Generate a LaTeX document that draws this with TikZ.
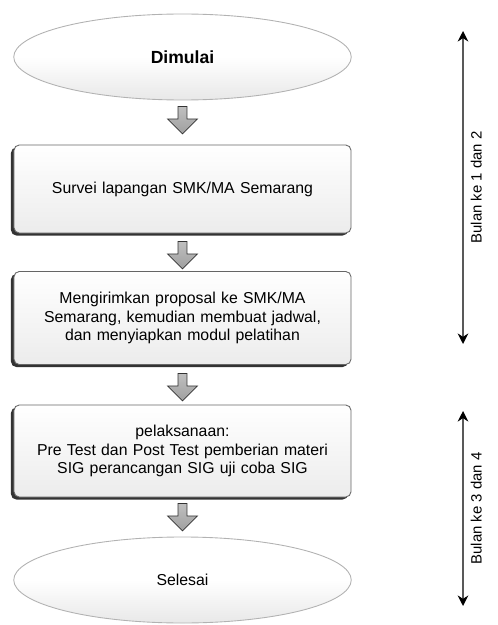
\documentclass[tikz,border=0pt]{standalone}
\usepackage{fontspec}
\setmainfont{Liberation Sans}
\usetikzlibrary{shapes.geometric,shapes.arrows,shadows,arrows.meta}
\tikzset{
  startstop/.style={ellipse, draw=gray!60, line width=0.5pt, top color=white, bottom color=gray!18,
    middle color=white, minimum width=6.75cm, minimum height=1.72cm, inner sep=0pt},
  flowbox/.style={rectangle, rounded corners=3pt, draw=gray!80!black, line width=0.5pt,
    top color=white, bottom color=gray!15, minimum width=6.74cm, inner sep=2pt,
    align=center, text width=6.5cm, font=\fontsize{9}{10.5}\selectfont,
    drop shadow={shadow xshift=-0.06cm, shadow yshift=-0.05cm, fill=black!80, opacity=1}},
  downarrow/.style={single arrow, rotate=-90, draw=gray!40!black, top color=gray!50, bottom color=gray!75,
    minimum height=0.55cm, minimum width=0.6cm, single arrow head extend=0.1cm, inner sep=1pt},
  timeline/.style={draw=gray!70!black, line width=0.8pt, {Stealth[length=6pt,width=6pt,black]}-{Stealth[length=6pt,width=6pt,black]}},
  sidelabel/.style={font=\fontsize{8.5}{10}\selectfont, sloped, below, inner sep=4pt}
}
\begin{document}
\begin{tikzpicture}
\useasboundingbox (0,0) rectangle (9.96,-12.5);

% alur kegiatan
\node[startstop, font=\bfseries\fontsize{10}{12}\selectfont] (mulai) at (3.65,-1.14) {Dimulai};
\node[flowbox, minimum height=1.76cm] (survei) at (3.65,-3.78) {Survei lapangan SMK/MA Semarang};
\node[flowbox, minimum height=1.86cm] (proposal) at (3.65,-6.36) {Mengirimkan proposal ke SMK/MA\\ Semarang, kemudian membuat jadwal,\\ dan menyiapkan modul pelatihan};
\node[flowbox, minimum height=1.84cm] (laksana) at (3.65,-9.02) {pelaksanaan:\\ Pre Test dan Post Test pemberian materi\\ SIG perancangan SIG uji coba SIG};
\node[startstop, font=\fontsize{9}{11}\selectfont] (selesai) at (3.65,-11.6) {Selesai};

% panah antar tahap
\node[downarrow] (p1) at (3.65,-2.36) {};
\node[downarrow] (p2) at (3.65,-5.06) {};
\node[downarrow] (p3) at (3.65,-7.70) {};
\node[downarrow] (p4) at (3.65,-10.30) {};

% waktu
\coordinate (b1atas) at (9.26,-0.62);
\coordinate (b1bawah) at (9.26,-6.88);
\coordinate (b2atas) at (9.26,-8.22);
\coordinate (b2bawah) at (9.26,-12.12);
\draw[timeline] (b1bawah) -- (b1atas) node[midway, sidelabel] (bulan1) {Bulan ke 1 dan 2};
\draw[timeline] (b2bawah) -- (b2atas) node[midway, sidelabel] (bulan2) {Bulan ke 3 dan 4};

\end{tikzpicture}
\end{document}
